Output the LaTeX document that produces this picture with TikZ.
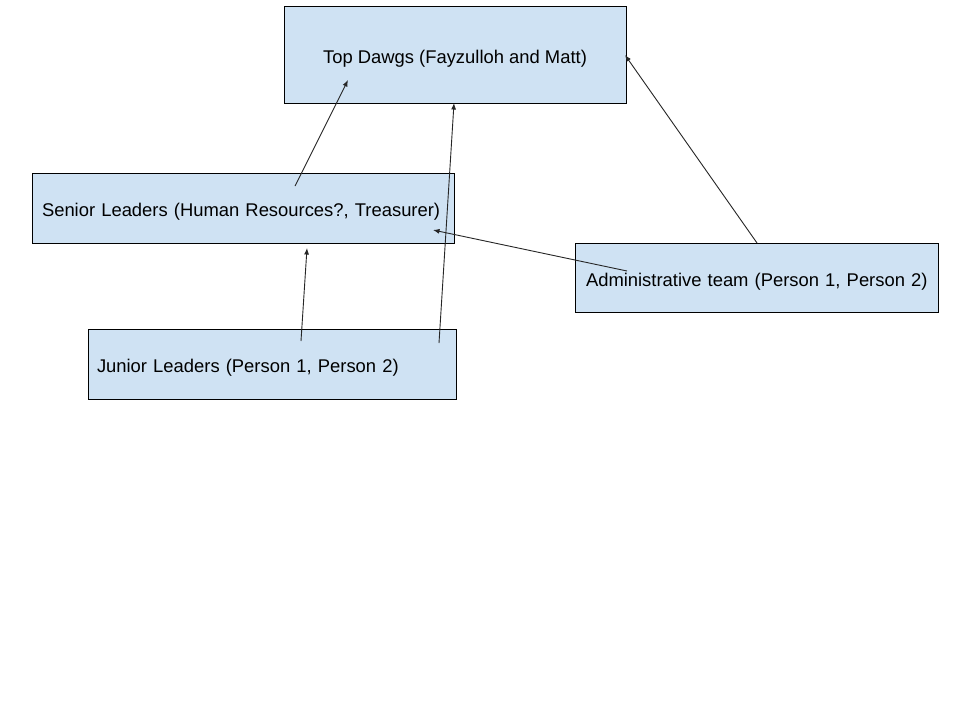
\documentclass[tikz,border=0pt]{standalone}
\usepackage{fontspec}
\setmainfont{Liberation Sans}
\usetikzlibrary{arrows.meta}
\definecolor{boxblue}{HTML}{CFE2F3}
\begin{document}
\begin{tikzpicture}[x=1pt,y=-1pt,
  box/.style={draw=black, line width=0.9pt, fill=boxblue, rectangle, inner ysep=0pt, minimum height=#1, text height=17pt, text depth=0pt, font=\fontsize{18.4}{22}\selectfont, align=left},
  conn/.style={line width=0.9pt, draw=black!85, -{Latex[length=6.5pt,width=5pt]}}]
\useasboundingbox (0,0) rectangle (960,720);
\fill[white] (0,0) rectangle (960,720);
% boxes
\node[box=97pt, inner xsep=0pt, minimum width=342pt, align=center] (top) at (455,54.5) {Top Dawgs (Fayzulloh and Matt)};
\node[box=70pt, inner xsep=10pt, text width=402pt] (senior) at (243,208) {Senior Leaders (Human Resources?, Treasurer)};
\node[box=70pt, inner xsep=9pt, text width=350pt] (junior) at (272,364) {Junior Leaders (Person 1, Person 2)};
\node[box=69pt, inner xsep=11pt, text width=341pt] (admin) at (756.5,277.5) {\mbox{Administrative team (Person 1, Person 2)}};
% connector ends
\coordinate (s1) at (295,186);
\coordinate (t1) at (348,80);
\coordinate (j1) at (439,343);
\coordinate (t2) at (454,103);
\coordinate (j2) at (301,341);
\coordinate (s2) at (307,248);
\coordinate (a1) at (627,271);
\coordinate (s3) at (433,230);
\coordinate (a2) at (757,243);
\coordinate (t3) at (625,55);
% connectors
\draw[conn] (s1) -- (t1);
\draw[conn] (j1) -- (t2);
\draw[conn] (j2) -- (s2);
\draw[conn] (a1) -- (s3);
\draw[conn] (a2) -- (t3);
\end{tikzpicture}
\end{document}
